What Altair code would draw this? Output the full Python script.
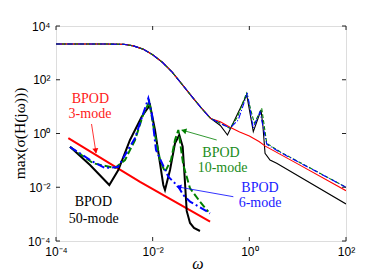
import math
import altair as alt
import pandas as pd

# ---------- data (log10 omega, log10 max sigma) ----------
# shared full-order part (all four curves coincide here)
full_w = [-4.0, -3.0, -2.6, -2.4, -2.2, -2.0, -1.8, -1.6, -1.4, -1.2, -1.0, -0.8]
full_m = [3.33, 3.33, 3.32, 3.26, 3.14, 2.93, 2.65, 2.29, 1.85, 1.40, 0.96, 0.56]

black_top_w = [-0.6, -0.452, -0.255, -0.054, 0.082, 0.242, 0.28, 0.325, 0.428, 0.566, 2.0]
black_top_m = [0.30, -0.056, 0.688, 1.433, 0.067, 0.874, 0.30, -0.737, -0.986, -1.109, -2.623]
red_top_w = [-0.6, -0.4, -0.2, 0.0, 0.2, 0.33, 1.0, 2.0]
red_top_m = [0.44, 0.23, 0.06, -0.09, -0.30, -0.47, -1.13, -2.13]
green_top_w = [-0.6, -0.40, -0.25, -0.06, 0.103, 0.256, 0.36, 0.635, 2.0]
green_top_m = [0.38, 0.19, 0.60, 1.50, 0.38, 0.94, -0.365, -0.68, -2.0]
blue_top_w = [-0.6, -0.40, -0.23, -0.04, 0.08, 0.22, 0.36, 0.635, 2.0]
blue_top_m = [0.38, 0.20, 0.50, 1.51, 0.20, 0.80, -0.40, -0.70, -2.0]

# low-frequency error curves
black_low_w = [-3.710, -3.296, -2.897, -2.711, -2.469, -2.227, -2.055, -1.952, -1.848, -1.780, -1.745,
               -1.641, -1.538, -1.449, -1.379, -1.341, -1.296, -1.227, -1.145, -1.021]
black_low_m = [-0.491, -1.172, -1.916, -1.358, -0.242, 0.625, 1.060, 0.130, -1.109, -1.916, -2.102,
               -1.358, -0.365, -0.056, -0.491, -1.544, -2.88, -3.33, -3.516, -3.628]
red_low_w = [-3.745, -2.261, -0.812]
red_low_m = [-0.175, -1.80, -3.275]
green_low_w = [-3.710, -3.228, -2.779, -2.572, -2.365, -2.2, -2.070, -1.972, -1.848, -1.745, -1.62,
               -1.538, -1.469, -1.366, -1.227, -1.021, -0.849]
green_low_m = [-0.502, -1.109, -1.284, -0.986, -0.242, 0.688, 1.183, 0.130, -0.986, -1.433, -0.986,
               -0.242, 0.130, -1.172, -2.039, -2.538, -2.91]
blue_low_w = [-3.710, -3.228, -2.986, -2.717, -2.365, -2.09, -2.014, -1.931, -1.676, -1.469, -1.366,
              -1.227, -0.985, -0.814]
blue_low_m = [-0.502, -1.06, -1.284, -1.247, -0.167, 1.31, 0.688, -0.614, -1.607, -1.979, -2.288,
              -2.538, -2.783, -2.97]

# annotations (log10 coordinates)
label_text = ["BPOD", "3-mode", "BPOD", "50-mode", "BPOD", "10-mode", "BPOD", "6-mode"]
label_w = [-3.290, -3.297, -3.228, -3.220, -0.586, -0.555, 0.221, 0.221]
label_m = [1.124, 0.577, -2.698, -3.330, -0.863, -1.414, -2.177, -2.735]
label_color = ["#ff1a1a", "#ff1a1a", "#000000", "#000000", "#1a8c1a", "#1a8c1a", "#1a1aff", "#1a1aff"]

arrow_from_w = [-3.265, -0.675, -0.331]
arrow_from_m = [0.353, -0.242, -2.352]
arrow_to_w = [-3.172, -1.399, -1.503]
arrow_to_m = [-0.726, 0.130, -1.979]
arrow_color = ["#ff0000", "#008000", "#0000ff"]

x_ticks = [1e-4, 1e-2, 1e0, 1e2]
x_tick_labels = ["10\u207b\u2074", "10\u207b\u00b2", "10\u2070", "10\u00b2"]
y_ticks = [1e-4, 1e-2, 1e0, 1e2, 1e4]
y_tick_labels = ["10\u207b\u2074", "10\u207b\u00b2", "10\u2070", "10\u00b2", "10\u2074"]

# ---------- chart ----------
W, H = 290, 215
PXX = W / 6.0
PXY = H / 8.0


def label_expr(vals, labs):
    expr = "'" + labs[-1] + "'"
    for v, l in reversed(list(zip(vals[:-1], labs[:-1]))):
        expr = "datum.value < %g ? '%s' : (%s)" % (v * 10, l, expr)
    return expr


xs = alt.Scale(type="log", domain=[1e-4, 1e2])
ys = alt.Scale(type="log", domain=[1e-4, 1e4])

xaxis = alt.Axis(values=x_ticks, labelExpr=label_expr(x_ticks, x_tick_labels), ticks=False,
                 domain=False, grid=False, labelFont="Liberation Sans", labelFontSize=12,
                 labelColor="#000", labelPadding=5, labelFlush=False,
                 title="\u03c9", titleFont="Liberation Serif", titleFontStyle="italic",
                 titleFontSize=16, titleFontWeight="normal", titleColor="#000",
                 titleX=141.5, titleY=22, titleBaseline="middle", titleAlign="center")
yaxis = alt.Axis(values=y_ticks, labelExpr=label_expr(y_ticks, y_tick_labels), ticks=False,
                 domain=False, grid=False, labelFont="Liberation Sans", labelFontSize=12,
                 labelColor="#000", labelPadding=6, labelFlush=False,
                 title="max(\u03c3(H(j\u03c9)))", titleFont="Liberation Serif",
                 titleFontSize=15.5, titleFontWeight="normal", titleColor="#000",
                 titleAngle=270, titleX=-37, titleY=107, titleBaseline="middle", titleAlign="center")


def seg_df(ws, ms):
    return pd.DataFrame({"i": list(range(len(ws))), "w": [10 ** a for a in ws], "m": [10 ** b for b in ms]})


def line(ws, ms, color, width, dash=None):
    kw = dict(color=color, strokeWidth=width, clip=True)
    if dash:
        kw["strokeDash"] = dash
    return alt.Chart(seg_df(ws, ms)).mark_line(**kw).encode(
        x=alt.X("w:Q", scale=xs, axis=xaxis),
        y=alt.Y("m:Q", scale=ys, axis=yaxis),
        order="i:Q",
    )


layers = []
# top curves (thin)
layers.append(line(full_w + black_top_w, full_m + black_top_m, "#000000", 1.1))
layers.append(line(full_w + red_top_w, full_m + red_top_m, "#ff0000", 1.1))
layers.append(line(full_w + green_top_w, full_m + green_top_m, "#008000", 1.1, [4, 2]))
layers.append(line(full_w + blue_top_w, full_m + blue_top_m, "#0000ff", 1.1, [6, 2, 1, 2]))
# low frequency error curves (thick)
layers.append(line(red_low_w, red_low_m, "#ff0000", 2))
layers.append(line(black_low_w, black_low_m, "#000000", 2))
layers.append(line(green_low_w, green_low_m, "#008000", 2, [7, 3]))
layers.append(line(blue_low_w, blue_low_m, "#0000ff", 2, [8, 3, 2, 3]))

# arrows
adf = pd.DataFrame({
    "x1": [10 ** v for v in arrow_from_w], "y1": [10 ** v for v in arrow_from_m],
    "x2": [10 ** v for v in arrow_to_w], "y2": [10 ** v for v in arrow_to_m],
    "c": arrow_color,
})
layers.append(alt.Chart(adf).mark_rule(strokeWidth=1, opacity=0.8).encode(
    x=alt.X("x1:Q", scale=xs, axis=xaxis), y=alt.Y("y1:Q", scale=ys, axis=yaxis),
    x2="x2:Q", y2="y2:Q", color=alt.Color("c:N", scale=None)))

heads = []
for fw, fm, tw, tm, c in zip(arrow_from_w, arrow_from_m, arrow_to_w, arrow_to_m, arrow_color):
    dx = (tw - fw) * PXX
    dy = -(tm - fm) * PXY
    L = math.hypot(dx, dy)
    ang = math.degrees(math.atan2(dx, -dy)) % 360
    back = 3.0
    hw = tw - dx / L * back / PXX
    hm = tm + dy / L * back / PXY
    heads.append({"w": 10 ** hw, "m": 10 ** hm, "a": ang, "c": c})
hdf = pd.DataFrame(heads)
layers.append(alt.Chart(hdf).mark_point(shape="triangle", filled=True, size=35, opacity=1).encode(
    x=alt.X("w:Q", scale=xs, axis=xaxis), y=alt.Y("m:Q", scale=ys, axis=yaxis),
    angle=alt.Angle("a:Q", scale=None), color=alt.Color("c:N", scale=None)))

# text labels
tdf = pd.DataFrame({"w": [10 ** v for v in label_w], "m": [10 ** v for v in label_m],
                    "t": label_text, "c": label_color})
layers.append(alt.Chart(tdf).mark_text(font="Liberation Serif", fontSize=14, align="center",
                                       baseline="alphabetic").encode(
    x=alt.X("w:Q", scale=xs, axis=xaxis), y=alt.Y("m:Q", scale=ys, axis=yaxis),
    text="t:N", color=alt.Color("c:N", scale=None)))

# inward ticks on all four sides
xt = pd.DataFrame({"t": x_ticks})
yt = pd.DataFrame({"t": y_ticks})
layers.append(alt.Chart(xt).mark_rule(color="#222", strokeWidth=1).encode(
    x=alt.X("t:Q", scale=xs, axis=xaxis), y=alt.value(0), y2=alt.value(4)))
layers.append(alt.Chart(xt).mark_rule(color="#222", strokeWidth=1).encode(
    x=alt.X("t:Q", scale=xs, axis=xaxis), y=alt.value(H - 4), y2=alt.value(H)))
layers.append(alt.Chart(yt).mark_rule(color="#222", strokeWidth=1).encode(
    y=alt.Y("t:Q", scale=ys, axis=yaxis), x=alt.value(0), x2=alt.value(4)))
layers.append(alt.Chart(yt).mark_rule(color="#222", strokeWidth=1).encode(
    y=alt.Y("t:Q", scale=ys, axis=yaxis), x=alt.value(W - 4), x2=alt.value(W)))

chart = alt.layer(*layers).properties(
    width=W, height=H,
    autosize=alt.AutoSizeParams(type="none"),
    padding={"left": 48, "top": 18, "right": 30, "bottom": 30},
).configure_view(stroke="#222", strokeWidth=1.2).configure(background="white")

chart.save("out.html", embed_options={"renderer": "svg", "actions": False})
